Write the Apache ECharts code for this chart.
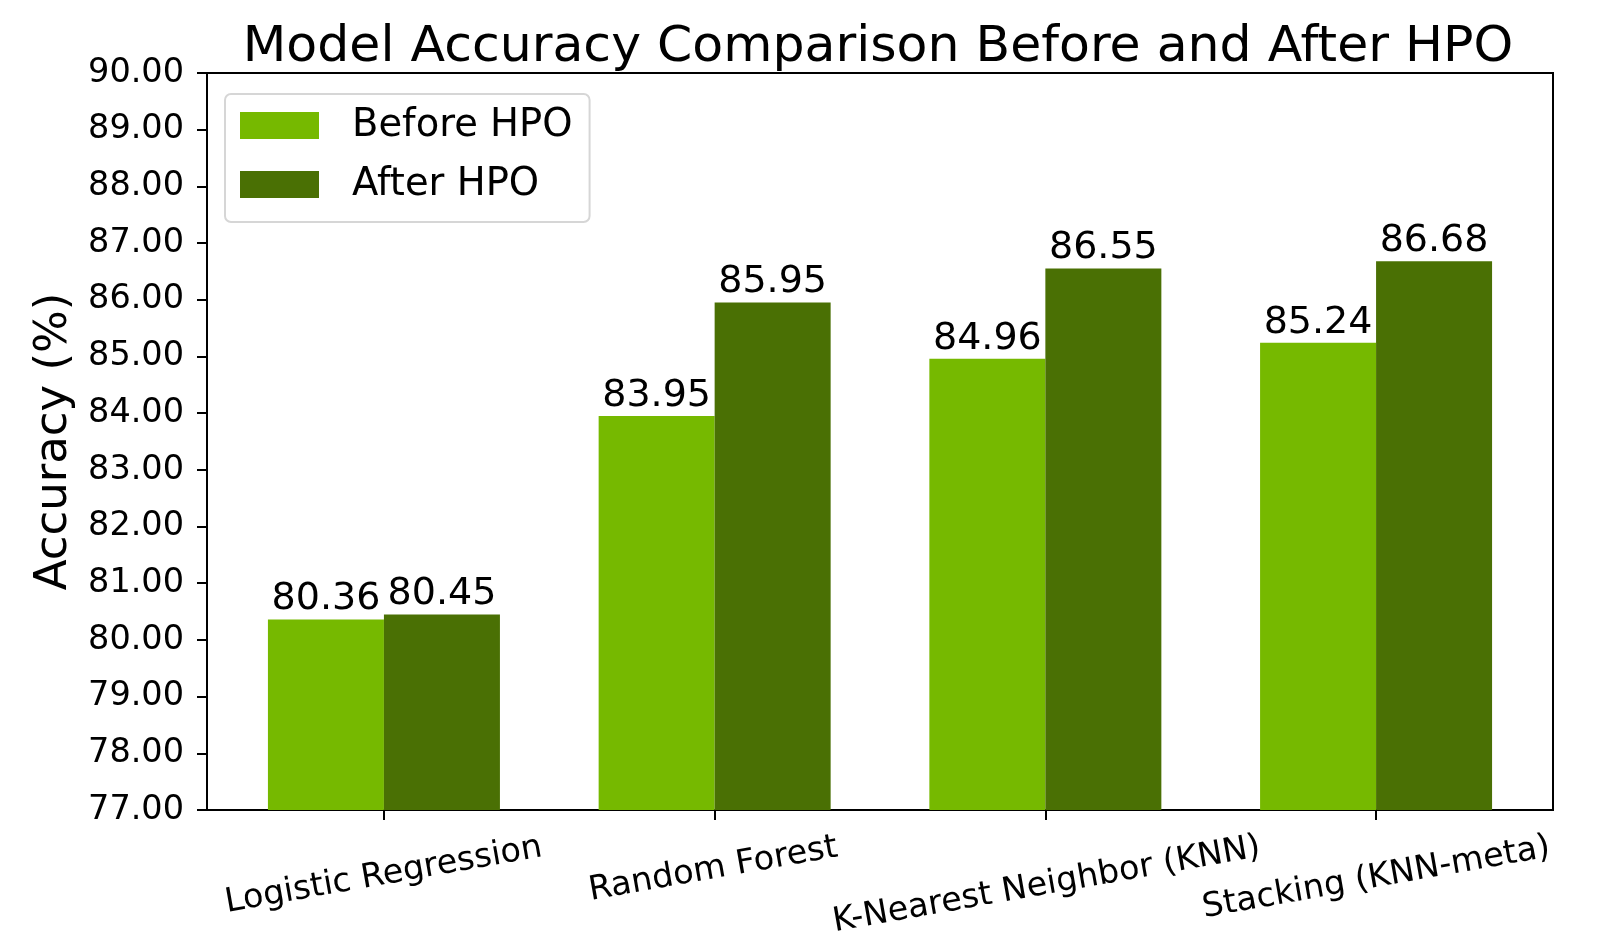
<!DOCTYPE html>
<html>
<head>
<meta charset="utf-8">
<script src="https://cdn.jsdelivr.net/npm/echarts@6/dist/echarts.min.js"></script>
<style>
  html, body { margin: 0; padding: 0; background: #fff; }
  #chart { width: 1614px; height: 947px; }
</style>
</head>
<body>
<div id="chart"></div>
<script>
// 数据
const categories = ["Logistic Regression", "Random Forest", "K-Nearest Neighbor (KNN)", "Stacking (KNN-meta)"];
const beforeHPO = [80.36, 83.95, 84.96, 85.24];
const afterHPO = [80.45, 85.95, 86.55, 86.68];
const yTicks = { min: 77, max: 90, step: 1 };

const FONT = "DejaVu Sans";
const TICK_SIZE = 33.5;
const ROT = 10;
const catIdx = categories.map((_, i) => i);

// 斜放的类目标签：按文字长度微调，让外框顶边对齐（类似 matplotlib）
const ctx2d = document.createElement("canvas").getContext("2d");
ctx2d.font = `${TICK_SIZE}px "${FONT}"`;
const widths = categories.map((c) => ctx2d.measureText(c).width);
const meanW = widths.reduce((a, b) => a + b, 0) / widths.length;
const rich = {};
categories.forEach((c, i) => {
  const off = (widths[i] - meanW) / 2 * Math.sin(ROT * Math.PI / 180);
  rich["c" + i] = {
    fontFamily: FONT, fontSize: TICK_SIZE, color: "#000",
    padding: off >= 0 ? [2 * off, 0, 0, 0] : [0, 0, -2 * off, 0]
  };
});

const chart = echarts.init(document.getElementById("chart"), null, { renderer: "canvas" });

const barLabel = {
  show: true,
  position: "top",
  distance: 1,
  fontFamily: FONT,
  fontSize: 38,
  color: "#000",
  formatter: (p) => p.value[1].toFixed(2)
};

chart.setOption({
  backgroundColor: "#fff",
  animation: false,
  title: {
    text: "Model Accuracy Comparison Before and After HPO",
    left: 873,
    top: 17,
    textAlign: "center",
    textStyle: { fontFamily: FONT, fontSize: 50.5, fontWeight: "normal", color: "#000" }
  },
  legend: {
    orient: "vertical",
    left: 225,
    top: 94,
    padding: [12, 17, 18, 15],
    itemGap: 20,
    itemWidth: 79,
    itemHeight: 27,
    icon: "rect",
    backgroundColor: "rgba(255,255,255,0.8)",
    borderColor: "#d6d6d6",
    borderWidth: 2,
    borderRadius: 6,
    textStyle: { fontFamily: FONT, fontSize: 38.5, lineHeight: 38, color: "#000", padding: [0, 0, 0, 28] },
    data: ["Before HPO", "After HPO"]
  },
  grid: {
    left: 207, right: 61, top: 73, bottom: 137,
    show: true, borderColor: "#000", borderWidth: 2, backgroundColor: "transparent",
    containLabel: false
  },
  xAxis: {
    type: "value",
    min: -0.535,
    max: 3.535,
    splitLine: { show: false },
    axisLine: { show: false, onZero: false },
    axisTick: { show: true, length: 10, customValues: catIdx, lineStyle: { color: "#000", width: 2 } },
    axisLabel: {
      customValues: catIdx,
      formatter: (v) => {
        const i = Math.round(v);
        return `{c${i}|${categories[i]}}`;
      },
      rich,
      rotate: ROT,
      align: "center",
      verticalAlign: "middle",
      margin: 67,
      fontFamily: FONT,
      fontSize: TICK_SIZE,
      color: "#000"
    }
  },
  yAxis: {
    type: "value",
    min: yTicks.min,
    max: yTicks.max,
    interval: yTicks.step,
    name: "Accuracy (%)",
    nameLocation: "middle",
    nameGap: 118,
    nameTextStyle: { fontFamily: FONT, fontSize: 45, color: "#000" },
    splitLine: { show: false },
    axisLine: { show: false, onZero: false },
    axisTick: { show: true, length: 10, lineStyle: { color: "#000", width: 2 } },
    axisLabel: {
      margin: 23,
      fontFamily: FONT,
      fontSize: TICK_SIZE,
      color: "#000",
      formatter: (v) => v.toFixed(2)
    }
  },
  series: [
    {
      name: "Before HPO",
      type: "bar",
      barWidth: 116,
      barGap: "0%",
      itemStyle: { color: "#76b900" },
      label: barLabel,
      data: beforeHPO.map((v, i) => [i, v])
    },
    {
      name: "After HPO",
      type: "bar",
      barWidth: 116,
      barGap: "0%",
      itemStyle: { color: "#4a7004" },
      label: barLabel,
      data: afterHPO.map((v, i) => [i, v])
    }
  ]
});
</script>
</body>
</html>
